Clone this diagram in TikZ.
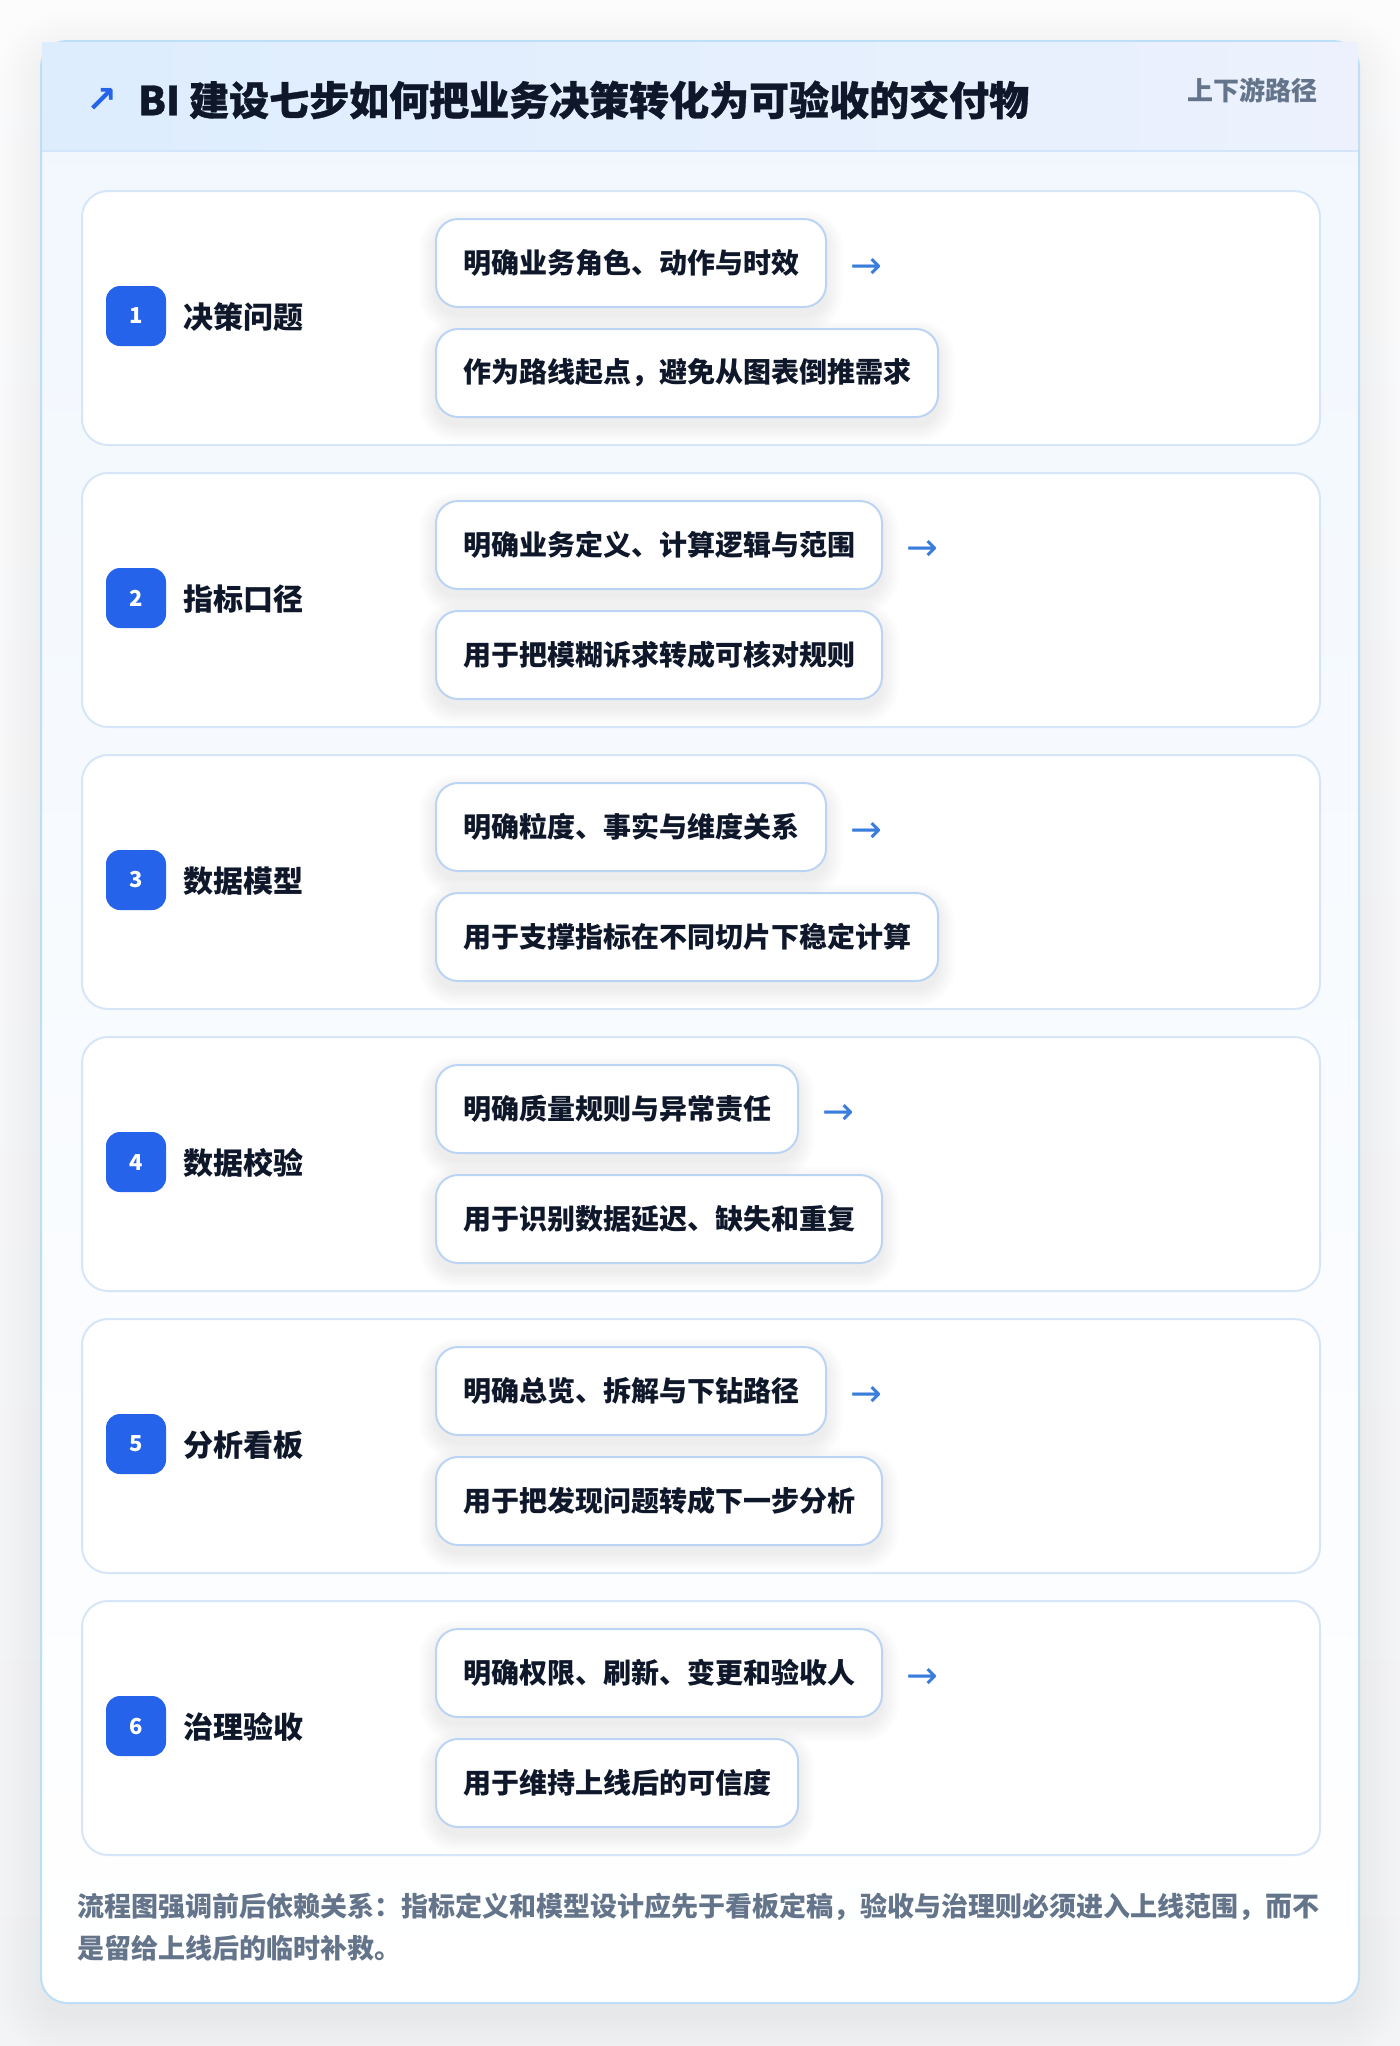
\documentclass[tikz,border=0pt]{standalone}
\usepackage{fontspec}
\setmainfont{Noto Sans CJK SC}
\newfontfamily\titlefont{Noto Sans CJK SC}[BoldFeatures={FakeBold=0.8}]
\newfontfamily\symfont{DejaVu Sans}
\usetikzlibrary{calc}

\pgfdeclarelayer{bglayer}
\pgfdeclarelayer{shadowlayer}
\pgfsetlayers{bglayer,shadowlayer,main}

\definecolor{pagebg}{HTML}{FCFCFD}
\definecolor{pagebot}{HTML}{F3F4F6}
\definecolor{shadowc}{HTML}{1E293B}
\definecolor{cardline}{HTML}{BCDFF7}
\definecolor{headL}{HTML}{DDEDFD}
\definecolor{headR}{HTML}{ECF1FD}
\definecolor{headline}{HTML}{D3E5FA}
\definecolor{bodytop}{HTML}{F1F7FE}
\definecolor{bodybot}{HTML}{FFFFFF}
\definecolor{panelline}{HTML}{D6E6F8}
\definecolor{boxline}{HTML}{BCD4F4}
\definecolor{badgeblue}{HTML}{2563EB}
\definecolor{ink}{HTML}{0F172A}
\definecolor{muted}{HTML}{64748B}
\definecolor{arrowc}{HTML}{3B7DDD}

\tikzset{
  panelbox/.style={draw=panelline, line width=2pt, fill=white, rounded corners=26pt,
    minimum width=1238pt, minimum height=254pt, anchor=north west, inner sep=0pt},
  badgebox/.style={fill=badgeblue, rounded corners=14pt, minimum size=60pt, inner sep=0pt,
    text=white, font=\bfseries\fontsize{22}{22}\selectfont},
  steplabel/.style={anchor=west, inner sep=0pt, text=ink, font=\bfseries\fontsize{30}{30}\selectfont},
  infobox/.style={draw=boxline, line width=2pt, fill=white, rounded corners=22pt,
    minimum height=88pt, inner xsep=27pt, inner ysep=0pt, anchor=north west, text=ink,
    font=\bfseries\fontsize{28}{28}\selectfont},
  nexttext/.style={anchor=west, inner sep=0pt, text=arrowc, font=\symfont\fontsize{38}{38}\selectfont},
  notetext/.style={anchor=west, inner sep=0pt, text=muted, font=\bfseries\fontsize{27}{27}\selectfont},
}

\begin{document}
\begin{tikzpicture}[x=1pt, y=1pt]
\useasboundingbox (0,0) rectangle (1400,-2046);
\begin{pgfonlayer}{bglayer}
% page background
\fill[top color=pagebg, bottom color=pagebot] (0,0) rectangle (1400,-2046);
% card shadow
\foreach \e in {0,4,...,44}{
  \pgfmathsetmacro\rc{26+\e}
  \fill[shadowc, fill opacity=0.0045, rounded corners=\rc pt]
    (41-\e,-41+\e-14) rectangle (1359+\e,-2003-\e-14);
}
% card
\path[draw=cardline, line width=2pt, rounded corners=26pt, top color=bodytop, bottom color=bodybot]
  (41,-41) rectangle (1359,-2003);
% header band
\fill[left color=headL, right color=headR] (42,-42) rectangle (1358,-151);
\draw[headline, line width=2pt] (42,-151) -- (1358,-151);
\end{pgfonlayer}

\node[inner sep=0pt, text=badgeblue, font=\symfont\bfseries\fontsize{37}{37}\selectfont] (titlearrow) at (102,-100) {↗};
\node[anchor=west, inner sep=0pt, text=ink, font=\titlefont\bfseries\fontsize{40}{40}\selectfont] (title) at (138,-100)
  {BI 建设七步如何把业务决策转化为可验收的交付物};
\node[anchor=east, inner sep=0pt, text=muted, font=\bfseries\fontsize{26}{26}\selectfont] (tag) at (1318,-90) {上下游路径};

% steps
\foreach \i/\lab/\a/\b in {
1/决策问题/明确业务角色、动作与时效/作为路线起点，避免从图表倒推需求,
2/指标口径/明确业务定义、计算逻辑与范围/用于把模糊诉求转成可核对规则,
3/数据模型/明确粒度、事实与维度关系/用于支撑指标在不同切片下稳定计算,
4/数据校验/明确质量规则与异常责任/用于识别数据延迟、缺失和重复,
5/分析看板/明确总览、拆解与下钻路径/用于把发现问题转成下一步分析,
6/治理验收/明确权限、刷新、变更和验收人/用于维持上线后的可信度}
{
  \pgfmathsetmacro\ptop{-189-282*(\i-1)}
  \begin{pgfonlayer}{bglayer}
    \node[panelbox] (p\i) at (81,\ptop-1) {};
  \end{pgfonlayer}
  \node[badgebox] (b\i) at (136,\ptop-127) {\i};
  \node[steplabel] (l\i) at (183,\ptop-128) {\lab};
  \node[infobox] (x\i) at (435,\ptop-29) {\a};
  \node[infobox] (y\i) at (435,\ptop-139) {\b};
  \node[nexttext] (r\i) at ([xshift=23pt,yshift=-5pt]x\i.east) {→};
  \begin{pgfonlayer}{shadowlayer}
    \foreach \bx in {x\i,y\i}{
      \foreach \e in {0,2,...,16}{
        \pgfmathsetmacro\rc{22+\e}
        \fill[shadowc, fill opacity=0.008, rounded corners=\rc pt]
          ($(\bx.north west)+(-\e,\e-8)$) rectangle ($(\bx.south east)+(\e,-\e-8)$);
      }
    }
  \end{pgfonlayer}
}

% footnote
\node[notetext] (note1) at (77,-1907) {流程图强调前后依赖关系：指标定义和模型设计应先于看板定稿，验收与治理则必须进入上线范围，而不};
\node[notetext] (note2) at (77,-1948) {是留给上线后的临时补救。};
\end{tikzpicture}
\end{document}
